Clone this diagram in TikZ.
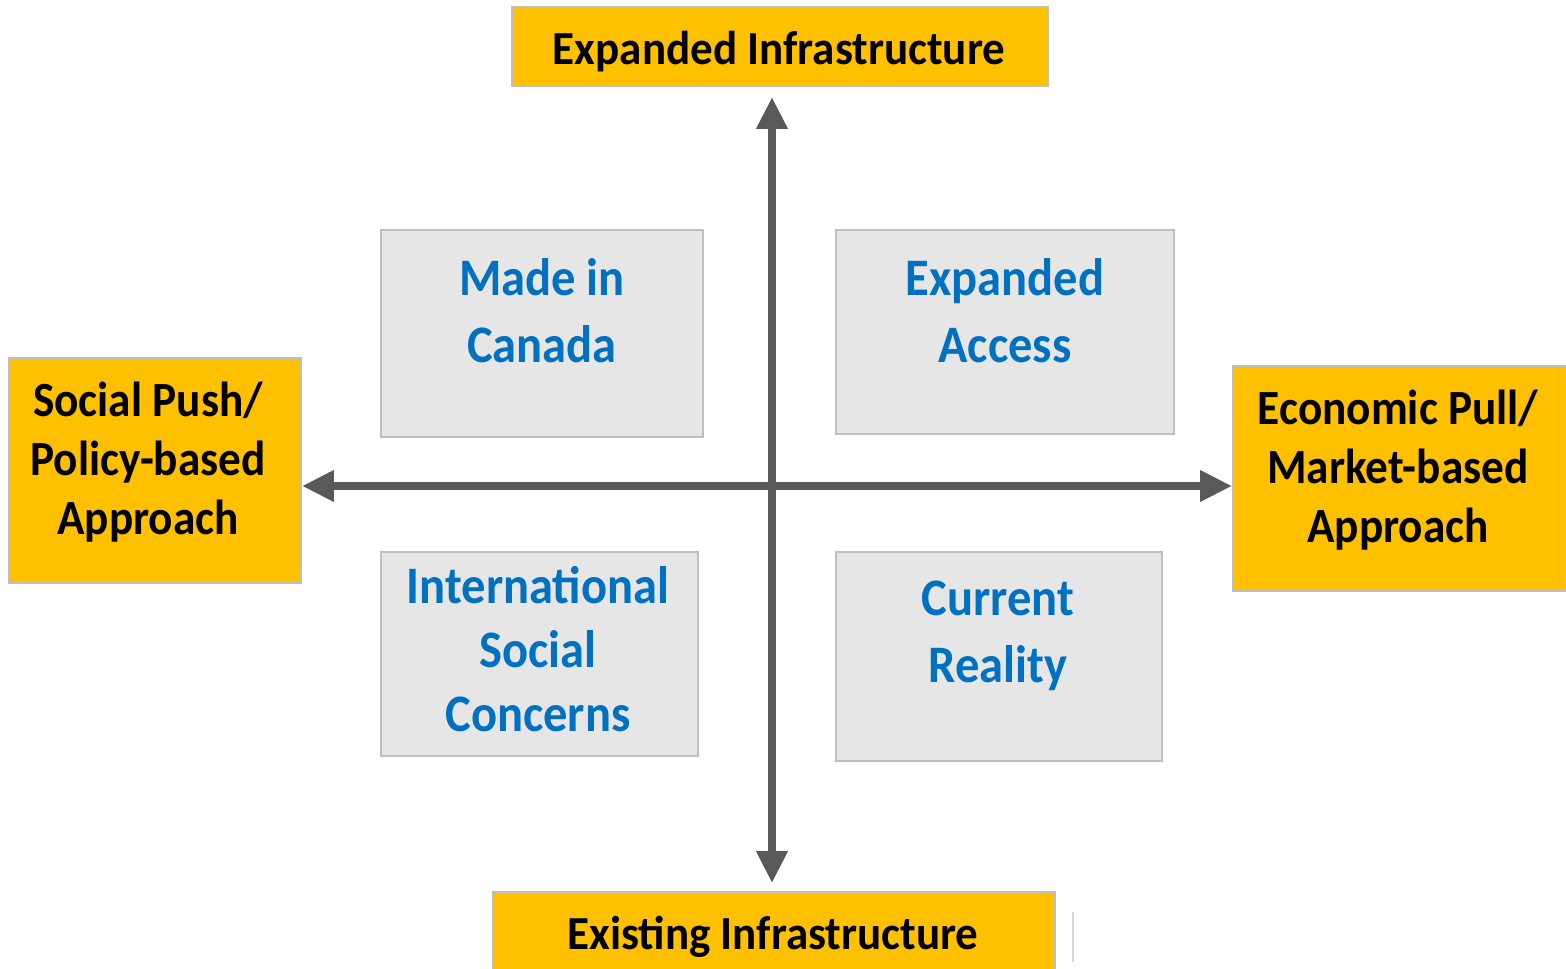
\documentclass[tikz,border=0pt]{standalone}
\usepackage{fontspec}
\setmainfont{Carlito}
\newfontfamily\endfont[FakeStretch=0.95]{Carlito}
\newfontfamily\sidefont[FakeStretch=0.92]{Carlito}
\newfontfamily\quadfont[FakeStretch=0.92]{Carlito}
\usetikzlibrary{arrows.meta}

\definecolor{gold}{HTML}{FFC000}
\definecolor{panel}{HTML}{E7E6E6}
\definecolor{rim}{HTML}{BFBFBF}
\definecolor{axisgrey}{HTML}{595959}
\definecolor{quadblue}{HTML}{0070C0}

\begin{document}
\begin{tikzpicture}[x=0.02cm, y=-0.02cm,
    axisbox/.style={draw=rim, line width=1.4pt, fill=gold, inner sep=0pt},
    endtext/.style={align=center, font=\endfont\bfseries\fontsize{27}{33.5}\selectfont},
    sidetext/.style={align=center, font=\sidefont\bfseries\fontsize{28}{33.5}\selectfont},
    quad/.style={draw=rim, line width=1.4pt, fill=panel, inner sep=0pt},
    quadtext/.style={text=quadblue, align=center, font=\quadfont\bfseries\fontsize{30}{38}\selectfont},
    axisline/.style={draw=axisgrey, line width=4pt, {Triangle[length=18pt,width=17pt]}-{Triangle[length=18pt,width=17pt]}}]
    \useasboundingbox (0,0) rectangle (1566,969);

    % the four ends of the axes
    \node[axisbox, minimum width=10.72cm, minimum height=1.58cm] (up) at (780,46.5) {};
    \node[axisbox, minimum width=11.24cm, minimum height=1.6cm] (down) at (774,932) {};
    \node[axisbox, minimum width=5.84cm, minimum height=4.5cm] (left) at (155,470.5) {};
    \node[axisbox, minimum width=6.66cm, minimum height=4.5cm] (right) at (1399.5,478.5) {};

    \node[endtext] at (779,52) {Expanded Infrastructure};
    \node[endtext] at (773,937) {Existing Infrastructure};
    \node[sidetext] at (148,462) {Social Push/\\Policy-based\\Approach};
    \node[sidetext] at (1398,470) {Economic Pull/\\Market-based\\Approach};

    % quadrants
    \node[quad, minimum width=6.44cm, minimum height=4.14cm] (made) at (542,333.5) {};
    \node[quad, minimum width=6.76cm, minimum height=4.08cm] (access) at (1005,332) {};
    \node[quad, minimum width=6.34cm, minimum height=4.08cm] (intl) at (539.5,654) {};
    \node[quad, minimum width=6.52cm, minimum height=4.18cm] (current) at (999,656.5) {};

    \node[quadtext] at (542,311) {Made in\\Canada};
    \node[quadtext] at (1005,311) {Expanded\\Access};
    \node[quadtext, font=\quadfont\bfseries\fontsize{30}{36.5}\selectfont] at (538,649) {International\\Social\\Concerns};
    \node[quadtext] at (998,636) {Current\\Reality};

    % axes
    \coordinate (o) at (772,486);
    \draw[axisline] (left.east |- o) -- (right.west |- o);
    \draw[axisline, shorten <=4.5pt, shorten >=5.7pt] (o |- down.north) -- (o |- up.south);

    \draw[rim!60, line width=1pt] (1073,912) -- (1073,962);
\end{tikzpicture}
\end{document}
